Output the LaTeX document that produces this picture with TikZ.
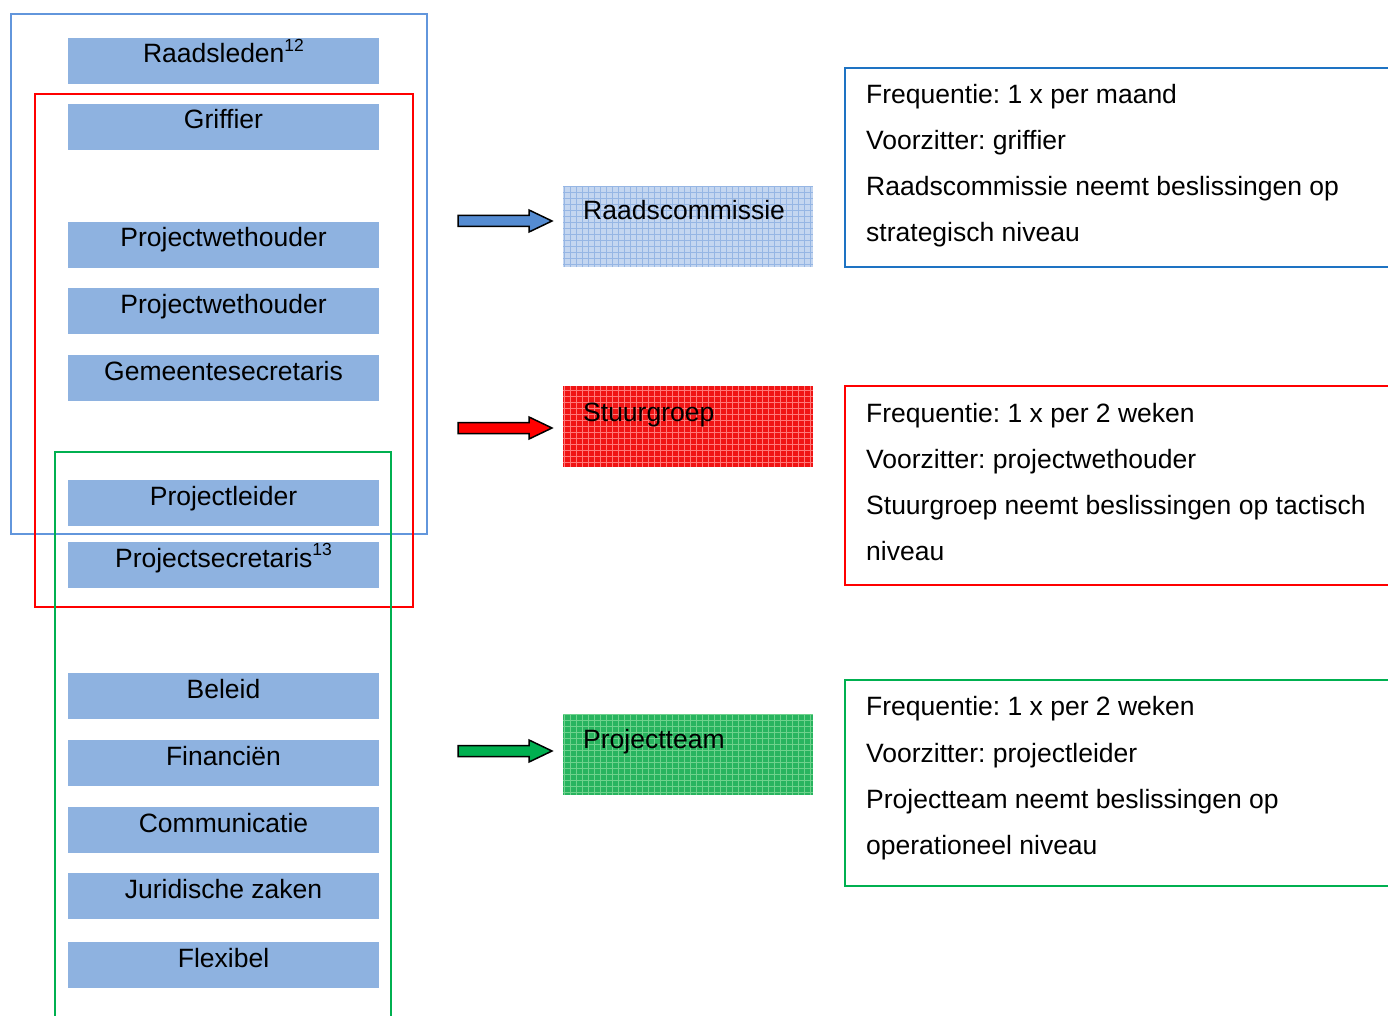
\documentclass[tikz,border=0pt]{standalone}
\usepackage{fontspec}
\setmainfont{Liberation Sans}
\definecolor{boxblue}{RGB}{142,178,224}
\definecolor{frameblue}{RGB}{98,150,220}
\definecolor{framered}{RGB}{255,0,0}
\definecolor{framegreen}{RGB}{0,176,80}
\definecolor{infoblue}{RGB}{30,115,195}
\definecolor{arrblue}{RGB}{85,140,210}
\definecolor{rcfill}{RGB}{196,214,240}
\definecolor{rcgrid}{RGB}{150,182,228}
\definecolor{sgfill}{RGB}{240,20,20}
\definecolor{sggrid}{RGB}{255,120,120}
\definecolor{ptfill}{RGB}{40,180,95}
\definecolor{ptgrid}{RGB}{110,210,140}
\newcommand\mysup[1]{\raisebox{0.42em}{\fontsize{17.5}{17.5}\selectfont #1}}
\frenchspacing
\begin{document}
\begin{tikzpicture}[x=1pt,y=-1pt,
  lbox/.style={fill=boxblue, draw=none, minimum width=311pt, minimum height=46pt, anchor=north west, inner sep=0pt, outer sep=0pt},
  ltxt/.style={anchor=base, inner sep=0pt, font=\fontsize{26.5}{30}\selectfont},
  cbox/.style={draw=none, minimum width=250pt, minimum height=81pt, anchor=north west, inner sep=0pt, outer sep=0pt},
  ctxt/.style={anchor=base west, inner sep=0pt, font=\fontsize{26.5}{30}\selectfont},
  rtxt/.style={anchor=base west, inner sep=0pt, font=\fontsize{26.5}{30}\selectfont},
  frame/.style={line width=1.6pt},
  barrow/.style={line width=1.5pt, draw=black, line join=miter}
]
\useasboundingbox (0,0) rectangle (1388,1016);

\newcommand\lb[3]{%
  \node[lbox] (#1) at (68,#2) {};
  \node[ltxt] (#1t) at ([yshift=-25pt]#1.north) {#3};
}
\lb{b1}{38}{Raadsleden\mysup{12}}
\lb{b2}{104}{Griffier}
\lb{b3}{222}{Projectwethouder}
\lb{b4}{288}{Projectwethouder}
\lb{b5}{355}{Gemeentesecretaris}
\lb{b6}{480}{Projectleider}
\lb{b7}{542}{Projectsecretaris\mysup{13}}
\lb{b8}{673}{Beleid}
\lb{b9}{740}{Financiën}
\lb{b10}{807}{Communicatie}
\lb{b11}{873}{Juridische zaken}
\lb{b12}{942}{Flexibel}

% frames
\draw[frame, draw=frameblue] (11,14) rectangle (427,534);
\draw[frame, draw=framered] (35,94) rectangle (413,607);
\draw[frame, draw=framegreen] (55,1018) -- (55,452) -- (391,452) -- (391,1018);

% block arrows
\newcommand\blockarrow[2]{%
  \draw[barrow, fill=#2] (458,#1-5.5) -- (529,#1-5.5) -- (529,#1-11) -- (552,#1) -- (529,#1+11) -- (529,#1+5.5) -- (458,#1+5.5) -- cycle;
}
\blockarrow{221}{arrblue}
\blockarrow{428}{framered}
\blockarrow{751}{framegreen}

% coloured boxes
\newcommand\cb[6]{%
  \node[cbox, fill=#3] (#1) at (563,#2) {};
  \begin{scope}
    \clip (#1.south west) rectangle (#1.north east);
    \draw[#4, line width=0.6pt] (#1.south west) grid[step=6pt] (#1.north east);
  \end{scope}
  \node[ctxt] (#1t) at ([xshift=20pt, yshift=#6]#1.north west) {#5};
}
\cb{rc}{186}{rcfill}{rcgrid}{Raadscommissie}{-34pt}
\cb{sg}{386}{sgfill}{sggrid}{Stuurgroep}{-35pt}
\cb{pt}{714}{ptfill}{ptgrid}{Projectteam}{-34pt}

% info boxes
\draw[frame, draw=infoblue] (1390,68) -- (845,68) -- (845,267) -- (1390,267);
\draw[frame, draw=framered] (1390,386) -- (845,386) -- (845,585) -- (1390,585);
\draw[frame, draw=framegreen] (1390,680) -- (845,680) -- (845,886) -- (1390,886);

\node[rtxt] (i1a) at (866,104) {Frequentie: 1 x per maand};
\node[rtxt] (i1b) at (866,150) {Voorzitter: griffier};
\node[rtxt] (i1c) at (866,196) {Raadscommissie neemt beslissingen op};
\node[rtxt] (i1d) at (866,242) {strategisch niveau};

\node[rtxt] (i2a) at (866,422) {Frequentie: 1 x per 2 weken};
\node[rtxt] (i2b) at (866,468) {Voorzitter: projectwethouder};
\node[rtxt] (i2c) at (866,514) {Stuurgroep neemt beslissingen op tactisch};
\node[rtxt] (i2d) at (866,560) {niveau};

\node[rtxt] (i3a) at (866,715) {Frequentie: 1 x per 2 weken};
\node[rtxt] (i3b) at (866,762) {Voorzitter: projectleider};
\node[rtxt] (i3c) at (866,808) {Projectteam neemt beslissingen op};
\node[rtxt] (i3d) at (866,854) {operationeel niveau};
\end{tikzpicture}
\end{document}
